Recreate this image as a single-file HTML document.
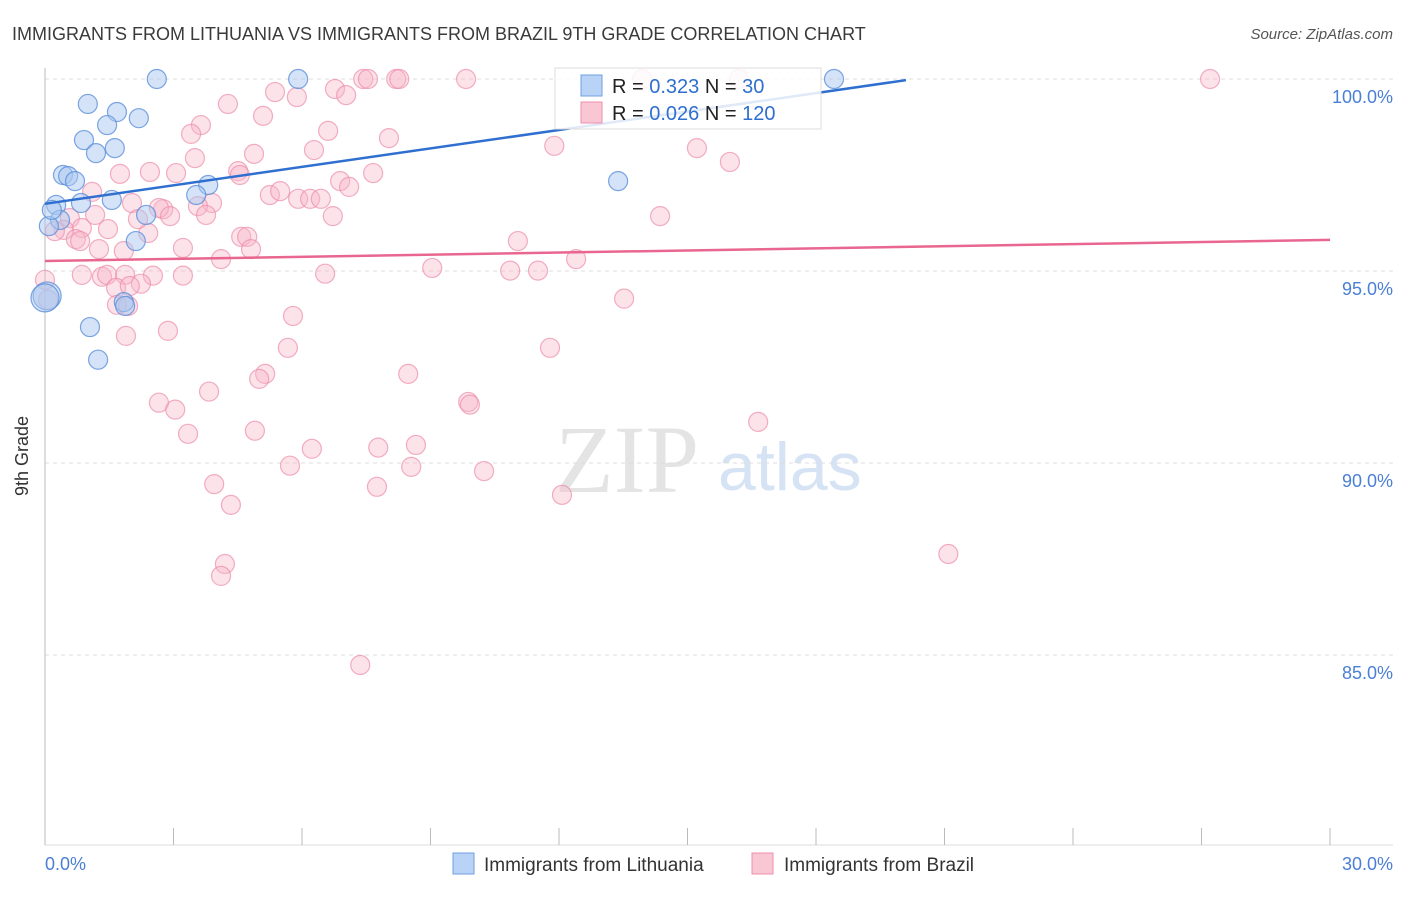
<!DOCTYPE html>
<html><head><meta charset="utf-8"><style>
body{margin:0;background:#fff;font-family:"Liberation Sans",sans-serif;}
</style></head><body>
<svg width="1406" height="892" xmlns="http://www.w3.org/2000/svg">
<text x="12" y="40" font-size="18" fill="#3a3a3a">IMMIGRANTS FROM LITHUANIA VS IMMIGRANTS FROM BRAZIL 9TH GRADE CORRELATION CHART</text>
<text x="1393" y="39" font-size="15" font-style="italic" fill="#555" text-anchor="end">Source: ZipAtlas.com</text>
<text x="555" y="492" font-size="96" font-family="Liberation Serif,serif" fill="#e4e4e4">ZIP</text>
<text x="718" y="490" font-size="68" fill="#d6e3f4">atlas</text>
<g id="grid"></g>
<line x1="45" y1="68" x2="45" y2="845" stroke="#bbb"/>
<line x1="45" y1="845" x2="1393" y2="845" stroke="#ddd"/>
<g id="xticks"></g>
<text x="28" y="456" font-size="18" fill="#333" transform="rotate(-90 28 456)" text-anchor="middle">9th Grade</text>
<text x="45" y="870" font-size="18" fill="#4a7fd4">0.0%</text>
<text x="1393" y="870" font-size="18" fill="#4a7fd4" text-anchor="end">30.0%</text>
<g id="pink"></g><g id="blue"></g><g id="trends"></g>
<g>
<rect x="555" y="68" width="266" height="61" fill="#fff" fill-opacity="0.85" stroke="#ddd"/>
<rect x="581" y="75" width="21" height="21" fill="#b8d3f5" stroke="#6f9fe0"/>
<rect x="581" y="102" width="21" height="21" fill="#f9c6d4" stroke="#ee8fab"/>
<text x="612" y="93" font-size="20" fill="#222">R = <tspan fill="#2f6fd0">0.323</tspan>  N = <tspan fill="#2f6fd0">  30</tspan></text>
<text x="612" y="120" font-size="20" fill="#222">R = <tspan fill="#2f6fd0">0.026</tspan>  N = <tspan fill="#2f6fd0">120</tspan></text>
</g>
<g><rect x="453" y="853" width="21" height="21" fill="#b8d3f5" stroke="#6f9fe0"/><text x="484" y="871" font-size="19" fill="#333">Immigrants from Lithuania</text></g>
<g><rect x="752" y="853" width="21" height="21" fill="#f9c6d4" stroke="#ee8fab"/><text x="784" y="871" font-size="19" fill="#333">Immigrants from Brazil</text></g>
</svg>
<script>
const blueX=[2.61,5.91,18.42,1.00,1.68,2.19,1.45,0.91,1.63,1.19,0.42,0.54,0.70,3.81,13.38,3.53,0.26,1.56,0.84,2.36,0.35,0.09,2.12,1.84,1.87,1.05,1.24,0.05,0.0,0.16];
const blueY=[100,100,100,99.35,99.14,98.98,98.80,98.41,98.20,98.07,97.50,97.47,97.34,97.24,97.34,96.98,96.72,96.85,96.77,96.46,96.33,96.17,95.78,94.19,94.09,93.54,92.69,94.35,94.30,96.59];
const blueBig=[27,28];
const pinkX=[7.43,7.54,8.20,8.27,9.83,13.94,16.20,27.20,5.37,5.88,6.77,7.03,4.27,5.09,3.64,3.41,6.61,8.03,11.89,15.22,15.99,4.88,3.50,6.28,2.45,1.75,3.06,4.51,4.55,7.66,6.89,7.10,5.25,5.49,5.91,6.19,6.44,1.10,3.90,2.03,3.57,2.76,2.66,6.72,14.36,1.17,0.58,0.86,0.44,0.23,1.47,2.41,2.92,2.17,3.76,0.72,0.82,1.26,1.84,3.22,4.58,4.72,4.81,11.04,4.11,12.40,0.86,1.33,1.45,1.87,2.52,3.22,6.54,9.04,10.86,11.51,1.66,2.24,1.98,1.68,1.94,13.52,5.79,2.87,1.89,5.67,11.79,5.14,5.00,8.48,3.83,2.66,3.04,9.88,9.92,3.34,4.90,16.65,6.23,7.78,8.66,5.72,8.55,10.25,3.95,7.75,12.07,4.34,4.20,4.11,21.09,7.36,0.0,0.07];
const pinkY=[100,100,100,100,100,100,100,100,99.66,99.53,99.74,99.58,99.35,99.04,98.80,98.57,98.65,98.46,98.26,98.20,97.84,98.05,97.94,98.15,97.58,97.53,97.55,97.60,97.50,97.55,97.34,97.19,96.98,97.08,96.88,96.88,96.88,97.06,96.77,96.77,96.69,96.61,96.64,96.43,96.43,96.46,96.38,96.12,96.07,96.04,96.09,95.99,96.43,96.35,96.46,95.83,95.78,95.57,95.52,95.60,95.89,95.89,95.57,95.78,95.31,95.31,94.90,94.85,94.90,94.90,94.88,94.88,94.93,95.08,95.01,95.01,94.56,94.67,94.61,94.12,94.09,94.28,93.83,93.44,93.31,93.00,93.00,92.32,92.19,92.32,91.86,91.57,91.39,91.59,91.52,90.76,90.84,91.07,90.37,90.40,90.47,89.93,89.90,89.79,89.45,89.38,89.17,88.91,87.37,87.06,87.63,84.74,94.77,94.25];
const pinkBig=[114,115];
const blueTrend=[[0,96.75],[20.1,99.97]];
const pinkTrend=[[0,95.26],[30,95.81]];
const yTicks=[100,95,90,85];
const xTicks=[0,3,6,9,12,15,18,21,24,27,30];
const NS='http://www.w3.org/2000/svg';
const sx=v=>45+v/30*1285, sy=v=>79+(100-v)*38.4;
function mk(t,a,p){const e=document.createElementNS(NS,t);for(const k in a)e.setAttribute(k,a[k]);document.getElementById(p).appendChild(e);return e;}
yTicks.forEach(v=>{
 const l=mk('line',{x1:45,x2:1393,y1:sy(v),y2:sy(v),stroke:'#ddd','stroke-dasharray':'4,4'},'grid');
 
 
 const t=mk('text',{x:1393,y:sy(v)+24,'font-size':18,fill:'#4a7fd4','text-anchor':'end'},'grid');
 t.textContent=v.toFixed(1)+'%';
 
 
});
xTicks.forEach(v=>{
 const l=mk('line',{x1:sx(v),x2:sx(v),y1:828,y2:845,stroke:'#bbb'},'xticks');
 
 
});
pinkX.forEach((x,i)=>{
 const c=mk('circle',{cx:sx(x),cy:sy(pinkY[i]),r:pinkBig.includes(i)?18:9.5,fill:'#f7b6c9','fill-opacity':0.4,stroke:'#ec8dab','stroke-opacity':0.7,'stroke-width':1.2},'pink');
 
 
});
blueX.forEach((x,i)=>{
 const c=mk('circle',{cx:sx(x),cy:sy(blueY[i]),r:blueBig.includes(i)?14:9.5,fill:'#a9c8f0','fill-opacity':0.5,stroke:'#5b8fdb','stroke-opacity':0.8,'stroke-width':1.2},'blue');
 
 
});
const bt=mk('line',{x1:sx(blueTrend[0][0]),y1:sy(blueTrend[0][1]),x2:sx(blueTrend[1][0]),y2:sy(blueTrend[1][1]),stroke:'#2f6fd0','stroke-width':2.5},'trends');


const pt=mk('line',{x1:sx(pinkTrend[0][0]),y1:sy(pinkTrend[0][1]),x2:sx(pinkTrend[1][0]),y2:sy(pinkTrend[1][1]),stroke:'#e8668f','stroke-width':2.5},'trends');


</script>
</body></html>
